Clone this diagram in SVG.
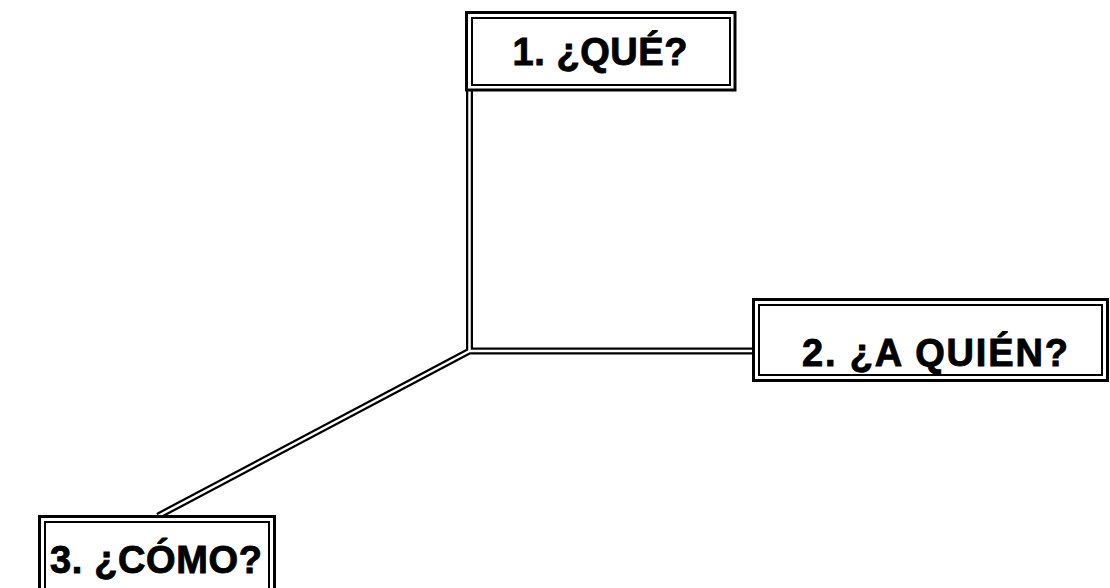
<svg xmlns="http://www.w3.org/2000/svg" width="1110" height="588" viewBox="0 0 1110 588">
<style>
.outer{fill:#fff;stroke:#000;stroke-width:3}
.inner{fill:none;stroke:#000;stroke-width:2}
.lbl{font-family:"Liberation Sans",Arial,sans-serif;font-weight:bold;font-size:38px;fill:#000;stroke:#000;stroke-width:0.9;text-anchor:middle}
.dbl-b{fill:none;stroke:#000;stroke-width:7;stroke-linejoin:miter}
.dbl-w{fill:none;stroke:#fff;stroke-width:2.5;stroke-linejoin:miter}
</style>
<rect width="1110" height="588" fill="#fff"/>
<g id="connectors">
<path class="dbl-b" d="M469.5 91 V351 H754 M469.5 351 L158 516"/>
<path class="dbl-w" d="M469.5 91 V351 H754 M469.5 351 L158 516"/>
</g>
<g id="node1">
<rect class="outer" x="466.5" y="12.5" width="268.5" height="77.5"/>
<rect class="inner" x="472" y="18" width="258" height="67"/>
<text class="lbl" x="600" y="65" textLength="175" lengthAdjust="spacing">1. ¿QUÉ?</text>
</g>
<g id="node2">
<rect class="outer" x="753.5" y="299.5" width="354" height="81"/>
<rect class="inner" x="759" y="305" width="343" height="70"/>
<text class="lbl" x="935" y="366" textLength="266" lengthAdjust="spacing">2. ¿A QUIÉN?</text>
</g>
<g id="node3">
<rect class="outer" x="39.5" y="516.5" width="235" height="80"/>
<rect class="inner" x="45" y="522" width="224" height="69"/>
<text class="lbl" x="156" y="573" textLength="212" lengthAdjust="spacing">3. ¿CÓMO?</text>
</g>
</svg>
